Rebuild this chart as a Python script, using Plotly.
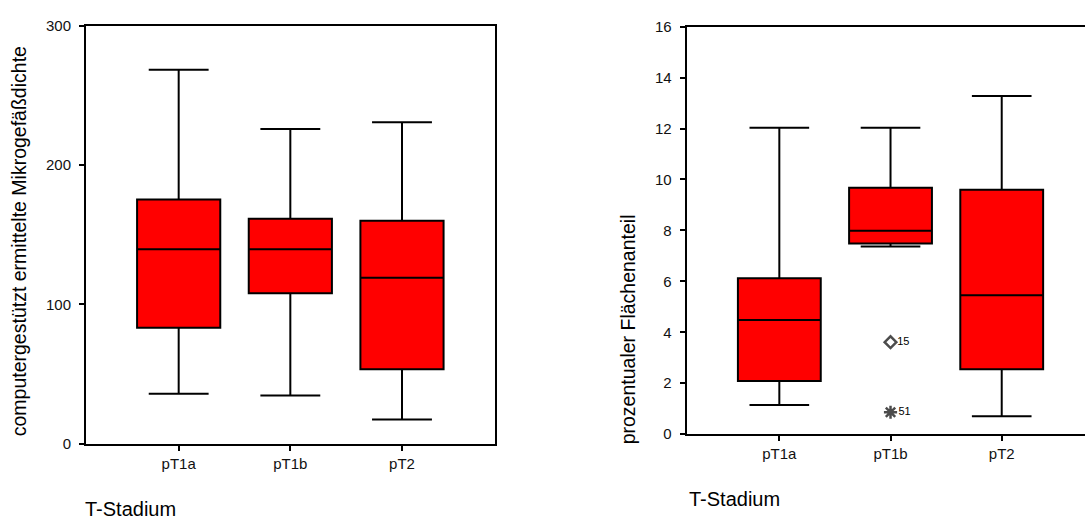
import plotly.graph_objects as go

# T-stage categories shared by both panels
stages = ["pT1a", "pT1b", "pT2"]

# Panel 1: computer-assisted microvessel density (box statistics)
mvd_lower = [36, 34.7, 17.4]
mvd_q1 = [83.3, 108.0, 53.5]
mvd_median = [139.6, 139.6, 119.2]
mvd_q3 = [175.4, 161.5, 160.0]
mvd_upper = [268.5, 225.9, 230.8]

# Panel 2: percentage area fraction (box statistics)
area_lower = [1.14, 7.37, 0.70]
area_q1 = [2.09, 7.49, 2.55]
area_median = [4.48, 7.99, 5.45]
area_q3 = [6.12, 9.68, 9.60]
area_upper = [12.03, 12.03, 13.28]

# Panel 2 outliers in pT1b (case numbers as labels)
outlier_stage = ["pT1b", "pT1b"]
outlier_value = [3.61, 0.86]
outlier_case = ["15", "51"]
outlier_symbol = ["diamond-open", "asterisk-open"]

y1_ticks = [0, 100, 200, 300]
y2_ticks = [0, 2, 4, 6, 8, 10, 12, 14, 16]

FONT = "Arial, Liberation Sans, sans-serif"
BOX_W = 0.745

fig = go.Figure()


def add_boxes(lower, q1, med, q3, upper, xa, ya):
    fig.add_trace(go.Box(
        x=stages, q1=q1, median=med, q3=q3,
        lowerfence=lower, upperfence=upper, width=BOX_W,
        fillcolor="#ff0000", line=dict(color="black", width=2),
        whiskerwidth=0.72, boxpoints=False, hoverinfo="skip",
        xaxis=xa, yaxis=ya, showlegend=False,
    ))
    # faint diagonal sheen across each box face
    for i, s in enumerate(stages):
        fig.add_trace(go.Scatter(
            x=[i - BOX_W / 2 + 0.03, i + BOX_W / 2 - 0.03], y=[q3[i], q1[i]],
            mode="lines", line=dict(color="rgba(255,150,150,0.8)", width=0.7),
            hoverinfo="skip", xaxis=xa, yaxis=ya, showlegend=False,
        ))


add_boxes(mvd_lower, mvd_q1, mvd_median, mvd_q3, mvd_upper, "x", "y")
add_boxes(area_lower, area_q1, area_median, area_q3, area_upper, "x2", "y2")

fig.add_trace(go.Scatter(
    x=outlier_stage, y=outlier_value, mode="markers+text",
    text=outlier_case, textposition="middle right",
    textfont=dict(family=FONT, size=11, color="black"),
    marker=dict(symbol=outlier_symbol, size=[9, 11], color="black",
                line=dict(color="black", width=2.5)),
    xaxis="x2", yaxis="y2", showlegend=False, hoverinfo="skip",
))

W, H = 1085, 527

axis_common = dict(
    showline=True, linecolor="black", linewidth=2,
    ticks="outside", ticklen=5, tickwidth=2, tickcolor="black",
    showgrid=False, zeroline=False,
    tickfont=dict(family=FONT, size=15, color="#111111"),
)

fig.update_layout(
    width=W, height=H,
    margin=dict(l=0, r=0, t=0, b=0),
    paper_bgcolor="white", plot_bgcolor="white",
    xaxis=dict(domain=[86 / W, 495 / W], type="category",
               range=[-0.830, 2.833], mirror=True,
               categoryorder="array", categoryarray=stages,
               anchor="y", **axis_common),
    yaxis=dict(domain=[1 - 449.3 / H, 1 - 17.3 / H], range=[0, 300],
               tickvals=y1_ticks, mirror=True, anchor="x",
               ticklabelstandoff=5, **axis_common),
    xaxis2=dict(domain=[686.7 / W, 1.0], type="category",
                range=[-0.833, 2.749], mirror=True,
                categoryorder="array", categoryarray=stages,
                anchor="y2", **axis_common),
    yaxis2=dict(domain=[1 - 439.3 / H, 1 - 18.3 / H], range=[0, 16],
                tickvals=y2_ticks, mirror=False, anchor="x2",
                ticklabelstandoff=5, **axis_common),
    annotations=[
        dict(text="computergestützt ermittelte Mikrogefäßdichte",
             textangle=-90, x=19 / W, y=1 - 240 / H,
             xref="paper", yref="paper", showarrow=False,
             xanchor="center", yanchor="middle",
             font=dict(family=FONT, size=19.5, color="black")),
        dict(text="prozentualer Flächenanteil",
             textangle=-90, x=628 / W, y=1 - 331 / H,
             xref="paper", yref="paper", showarrow=False,
             xanchor="center", yanchor="middle",
             font=dict(family=FONT, size=19.5, color="black")),
        dict(text="T-Stadium", x=83 / W, y=1 - 516.7 / H,
             xref="paper", yref="paper", showarrow=False,
             xanchor="left", yanchor="middle",
             font=dict(family=FONT, size=20, color="black")),
        dict(text="T-Stadium", x=687.3 / W, y=1 - 506.7 / H,
             xref="paper", yref="paper", showarrow=False,
             xanchor="left", yanchor="middle",
             font=dict(family=FONT, size=20, color="black")),
    ],
)

fig.write_html("out.html")
